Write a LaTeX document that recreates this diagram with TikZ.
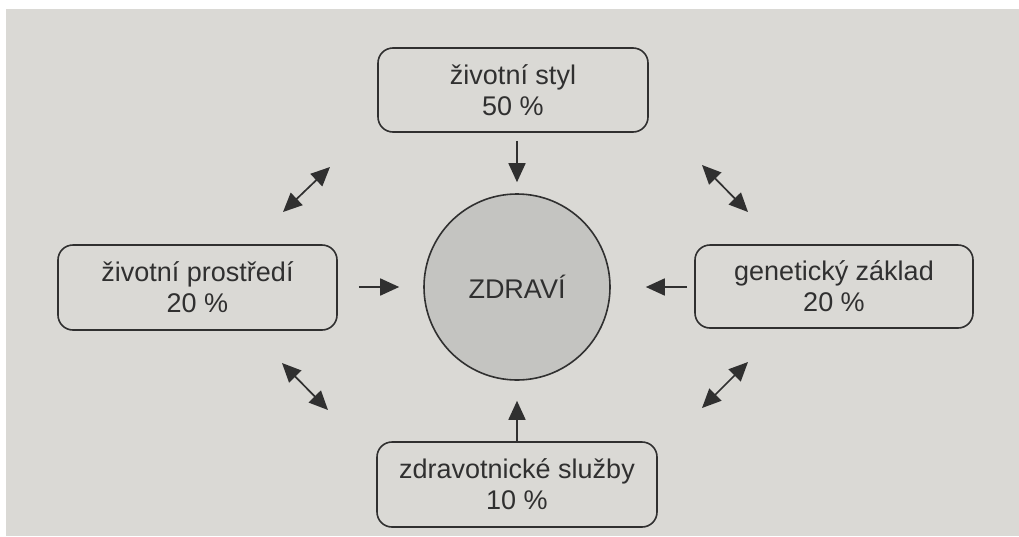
\documentclass[tikz,border=0pt]{standalone}
\usepackage{fontspec}
\setmainfont{Liberation Sans}
\usetikzlibrary{arrows.meta}
\definecolor{paper}{RGB}{218,217,213}
\definecolor{disc}{RGB}{196,196,193}
\definecolor{ink}{RGB}{48,48,48}
\begin{document}
\begin{tikzpicture}[x=1pt,y=-1pt,
  factor/.style={draw=ink,line width=1.6pt,rounded corners=15pt,align=center,
    text=ink,font=\fontsize{27}{31}\selectfont,inner sep=0pt},
  hub/.style={circle,draw=ink,line width=1.6pt,fill=disc,text=ink,
    font=\fontsize{27}{31}\selectfont,minimum size=186pt,inner sep=0pt},
  tip/.style={Triangle[length=19pt,width=17pt]},
  arr/.style={draw=ink,line width=1.7pt,-{Triangle[length=19pt,width=17pt]}},
  darr/.style={draw=ink,line width=1.7pt,{Triangle[length=19pt,width=17pt]}-{Triangle[length=19pt,width=17pt]}}]
\useasboundingbox (0,0) rectangle (1019,536);
\fill[white] (0,0) rectangle (1019,536);
\fill[paper] (6,9) rectangle (1019,536);
\node[hub] (circ) at (517,287) {ZDRAVÍ};
\node[factor,minimum width=270pt,minimum height=84pt] (top) at (513,90) {životní styl\\50 \%};
\node[factor,minimum width=280pt,minimum height=85pt] (bot) at (517,484.5) {zdravotnické služby\\10 \%};
\node[factor,minimum width=279pt,minimum height=85pt] (left) at (197.5,287.5) {životní prostředí\\20 \%};
\node[factor,minimum width=278pt,minimum height=83pt] (right) at (834,286.5) {genetický základ\\20 \%};
\draw[arr,shorten <=8pt,shorten >=11pt] (top.south -| circ) -- (circ.north);
\draw[arr,shorten >=20pt] (bot.north -| circ) -- (circ.south);
\draw[arr,shorten <=21pt,shorten >=24pt] (left.east |- circ) -- (circ.west);
\draw[arr,shorten <=7pt,shorten >=35pt] (right.west |- circ) -- (circ.east);
\coordinate (ula) at (283,212); \coordinate (ulb) at (330,167);
\coordinate (ura) at (702,165); \coordinate (urb) at (748,212);
\coordinate (lra) at (748,362); \coordinate (lrb) at (702,408);
\coordinate (lla) at (282,363); \coordinate (llb) at (328,410);
\draw[darr] (ula) -- (ulb);
\draw[darr] (ura) -- (urb);
\draw[darr] (lra) -- (lrb);
\draw[darr] (lla) -- (llb);
\end{tikzpicture}
\end{document}
